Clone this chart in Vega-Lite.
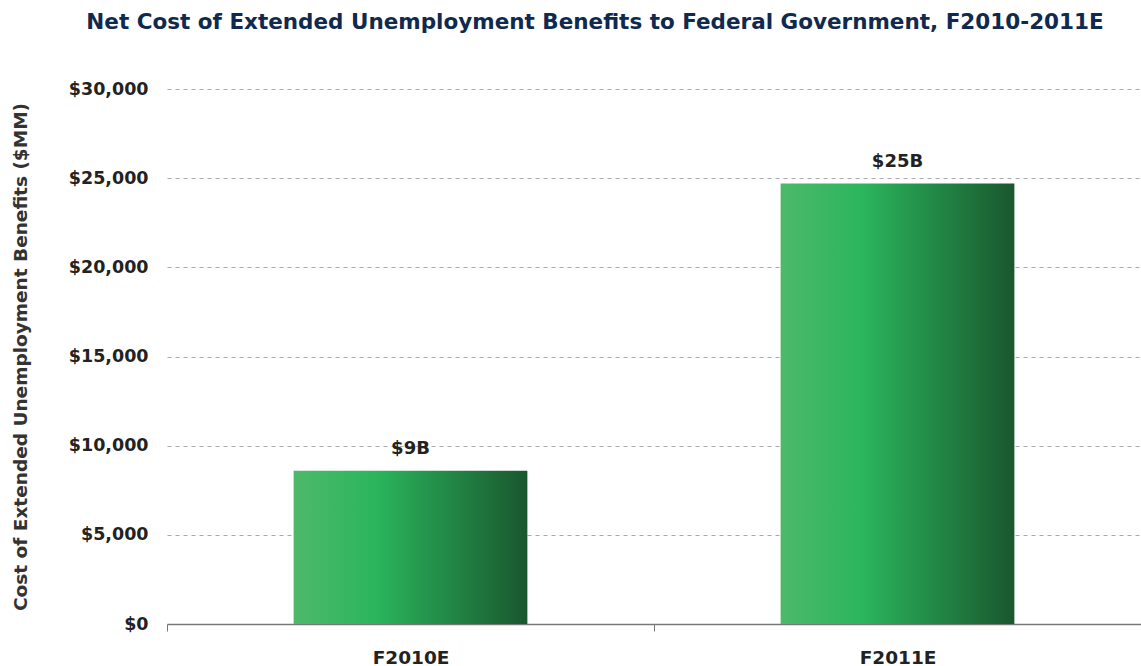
{
  "$schema": "https://vega.github.io/schema/vega-lite/v6.json",
  "width": 974,
  "height": 535,
  "autosize": {"type": "none"},
  "padding": {"left": 167, "top": 89, "right": 0, "bottom": 42},
  "background": "white",
  "config": {"view": {"stroke": null}, "font": "DejaVu Sans"},
  "title": {
    "text": "Net Cost of Extended Unemployment Benefits to Federal Government, F2010-2011E",
    "font": "DejaVu Sans",
    "fontSize": 21.5,
    "fontWeight": "bold",
    "color": "#10294F",
    "anchor": "middle",
    "frame": "group",
    "dx": -59,
    "offset": 47
  },
  "data": {
    "values": [
      {"year": "F2010E", "cost": 8600, "label": "$9B"},
      {"year": "F2011E", "cost": 24700, "label": "$25B"}
    ]
  },
  "encoding": {
    "x": {
      "field": "year",
      "type": "nominal",
      "sort": null,
      "scale": {"paddingInner": 0, "paddingOuter": 0},
      "axis": {
        "title": null,
        "labelAngle": 0,
        "labelFont": "DejaVu Sans",
        "labelFontSize": 18.5,
        "labelFontWeight": "bold",
        "labelColor": "#222222",
        "labelPadding": 17,
        "tickBand": "extent",
        "ticks": true,
        "tickSize": 7,
        "tickColor": "#777777",
        "domainColor": "#777777",
        "domainWidth": 1.5,
        "grid": false
      }
    }
  },
  "layer": [
    {
      "mark": {
        "type": "bar",
        "width": {"band": 0.48},
        "color": {
          "gradient": "linear",
          "x1": 0, "x2": 1, "y1": 0, "y2": 0,
          "stops": [
            {"offset": 0, "color": "#4DB96A"},
            {"offset": 0.35, "color": "#2BB55C"},
            {"offset": 0.65, "color": "#228A47"},
            {"offset": 1, "color": "#1A572E"}
          ]
        }
      },
      "encoding": {
        "y": {
          "field": "cost",
          "type": "quantitative",
          "scale": {"domain": [0, 30000]},
          "axis": {
            "title": "Cost of Extended Unemployment Benefits ($MM)",
            "titleFont": "DejaVu Sans",
            "titleFontSize": 18.5,
            "titleFontWeight": "bold",
            "titleColor": "#333333",
            "titlePadding": 38,
            "values": [0, 5000, 10000, 15000, 20000, 25000, 30000],
            "format": "$,.0f",
            "labelFont": "DejaVu Sans",
            "labelFontSize": 17.5,
            "labelFontWeight": "bold",
            "labelColor": "#222222",
            "labelPadding": 19,
            "ticks": false,
            "domain": false,
            "grid": true,
            "gridColor": "#AAAAAA",
            "gridDash": [4, 4],
            "gridWidth": 1
          }
        }
      }
    },
    {
      "mark": {
        "type": "text",
        "dy": -13,
        "baseline": "bottom",
        "font": "DejaVu Sans",
        "fontSize": 18,
        "fontWeight": "bold",
        "color": "#222222"
      },
      "encoding": {
        "y": {"field": "cost", "type": "quantitative"},
        "text": {"field": "label"}
      }
    }
  ]
}
